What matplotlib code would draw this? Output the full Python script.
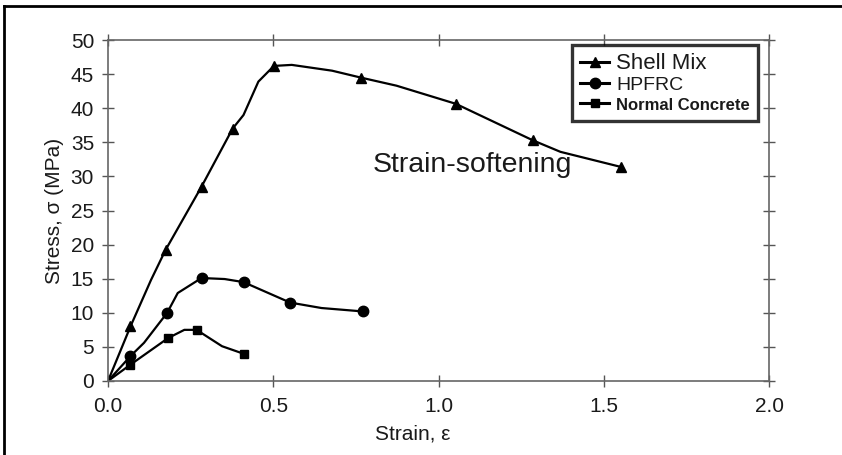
import matplotlib
matplotlib.use("Agg")
import matplotlib.pyplot as plt
from matplotlib.lines import Line2D

plt.rcParams['font.family'] = ['Liberation Sans', 'DejaVu Sans']

# Shell Mix (line vertices; markers at selected vertices)
shell_x = [0.0, 0.068, 0.13, 0.174, 0.283, 0.377, 0.41, 0.455, 0.502, 0.556, 0.678, 0.764, 0.873, 1.052, 1.285, 1.369, 1.551]
shell_y = [0.0, 8.0, 14.8, 19.2, 28.5, 37.0, 39.0, 43.9, 46.2, 46.35, 45.5, 44.5, 43.3, 40.65, 35.3, 33.6, 31.4]
shell_marks = [1, 3, 4, 5, 8, 11, 13, 14, 16]

hpfrc_x = [0.0, 0.068, 0.109, 0.179, 0.211, 0.283, 0.353, 0.41, 0.551, 0.646, 0.771]
hpfrc_y = [0.0, 3.65, 5.6, 10.0, 12.9, 15.1, 14.95, 14.5, 11.5, 10.7, 10.2]
hpfrc_marks = [1, 3, 5, 7, 8, 10]

normal_x = [0.0, 0.068, 0.182, 0.231, 0.268, 0.345, 0.41]
normal_y = [0.0, 2.4, 6.3, 7.5, 7.5, 5.1, 4.0]
normal_marks = [1, 2, 4, 6]

series_names = ["Shell Mix", "HPFRC", "Normal Concrete"]
xticks = [0.0, 0.5, 1.0, 1.5, 2.0]
yticks = [0, 5, 10, 15, 20, 25, 30, 35, 40, 45, 50]

fig = plt.figure(figsize=(8.42, 4.55), dpi=100)
ax = fig.add_axes([108/842, (455-381)/455, (769-108)/842, (381-40)/455])

LW = 1.6
ax.plot(shell_x, shell_y, color='black', lw=LW, marker='^', ms=7, markevery=shell_marks)
ax.plot(hpfrc_x, hpfrc_y, color='black', lw=LW, marker='o', ms=7.5, markevery=hpfrc_marks)
ax.plot(normal_x, normal_y, color='black', lw=LW, marker='s', ms=5.5, markevery=normal_marks)

ax.set_xlim(0, 2.0)
ax.set_ylim(0, 50)
ax.set_xticks(xticks)
ax.set_xticklabels([f"{v:.1f}" for v in xticks])
ax.set_yticks(yticks)
ax.tick_params(direction='inout', length=9, width=1.0, color='#555555', labelsize=15,
               top=True, right=True, labelcolor='#1a1a1a')
ax.tick_params(axis='x', pad=7)
ax.tick_params(axis='y', pad=5.5)
for s in ax.spines.values():
    s.set_color('#666666')
    s.set_linewidth(1.2)

ax.set_xlabel("Strain, ε", fontsize=15, labelpad=5, color='#1a1a1a')
ax.xaxis.set_label_coords(0.461, -0.127)
ax.set_ylabel("Stress, σ (MPa)", fontsize=15, labelpad=5, color='#1a1a1a')

ax.text(0.80, 31.7, "Strain-softening", fontsize=20.5, ha='left', va='center', color='#1a1a1a')

handles = [
    Line2D([], [], color='black', lw=2.2, marker='^', ms=7),
    Line2D([], [], color='black', lw=2.2, marker='o', ms=7.5),
    Line2D([], [], color='black', lw=2.2, marker='s', ms=5.5),
]
leg = ax.legend(handles, series_names, loc='upper right', bbox_to_anchor=(0.983, 0.985),
                frameon=True, fancybox=False, handlelength=1.5, handletextpad=0.35,
                borderpad=0.4, labelspacing=0.12, fontsize=14, borderaxespad=0.0)
leg.get_frame().set_edgecolor('black')
leg.get_frame().set_linewidth(2.4)
texts = leg.get_texts()
texts[0].set_fontsize(16)
texts[1].set_fontsize(14)
texts[2].set_fontsize(12)
texts[2].set_fontweight('bold')
for t in texts:
    t.set_color('#1a1a1a')

# figure border (top and left)
fig.add_artist(Line2D([4/842, 4/842], [0, 1 - 6/455], color='black', lw=2, transform=fig.transFigure))
fig.add_artist(Line2D([4/842, 1], [1 - 6/455, 1 - 6/455], color='black', lw=2, transform=fig.transFigure))

fig.savefig("out.png", dpi=100)
